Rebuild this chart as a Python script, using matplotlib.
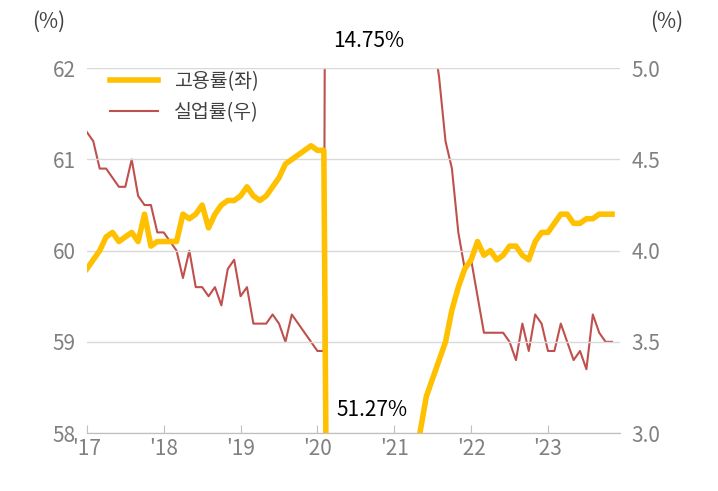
import matplotlib.pyplot as plt
import numpy as np

plt.rcParams["font.family"] = ["Noto Sans CJK KR", "Noto Sans CJK JP", "Noto Sans CJK SC", "DejaVu Sans"]

# monthly data, Jan 2017 - Nov 2023
employment = [
    59.8, 59.9, 60.0, 60.15, 60.2, 60.1, 60.15, 60.2, 60.1, 60.4, 60.05, 60.1,   # 2017
    60.1, 60.1, 60.1, 60.4, 60.35, 60.4, 60.5, 60.25, 60.4, 60.5, 60.55, 60.55,   # 2018
    60.6, 60.7, 60.6, 60.55, 60.6, 60.7, 60.8, 60.95, 61.0, 61.05, 61.1, 61.15,  # 2019
    61.1, 61.1, 51.27, 55.0, 55.5, 56.0, 56.5, 56.8, 57.0, 56.9, 56.8, 56.7,     # 2020
    56.8, 57.0, 57.3, 57.8, 58.0, 58.4, 58.6, 58.8, 59.0, 59.35, 59.6, 59.8,     # 2021
    59.9, 60.1, 59.95, 60.0, 59.9, 59.95, 60.05, 60.05, 59.95, 59.9, 60.1, 60.2, # 2022
    60.2, 60.3, 60.4, 60.4, 60.3, 60.3, 60.35, 60.35, 60.4, 60.4, 60.4,          # 2023
]
unemployment = [
    4.65, 4.6, 4.45, 4.45, 4.4, 4.35, 4.35, 4.5, 4.3, 4.25, 4.25, 4.1,           # 2017
    4.1, 4.05, 4.0, 3.85, 4.0, 3.8, 3.8, 3.75, 3.8, 3.7, 3.9, 3.95,              # 2018
    3.75, 3.8, 3.6, 3.6, 3.6, 3.65, 3.6, 3.5, 3.65, 3.6, 3.55, 3.5,              # 2019
    3.45, 3.45, 14.75, 12.0, 11.0, 10.0, 9.5, 9.0, 8.5, 8.0, 7.5, 7.0,           # 2020
    6.5, 6.2, 6.0, 5.8, 5.6, 5.4, 5.2, 4.95, 4.6, 4.45, 4.1, 3.9,                # 2021
    3.95, 3.75, 3.55, 3.55, 3.55, 3.55, 3.5, 3.4, 3.6, 3.45, 3.65, 3.6,          # 2022
    3.45, 3.45, 3.6, 3.5, 3.4, 3.45, 3.35, 3.65, 3.55, 3.5, 3.5,                 # 2023
]
year_labels = ["'17", "'18", "'19", "'20", "'21", "'22", "'23"]

months = np.arange(len(employment))
gray = "#808080"

fig = plt.figure(figsize=(7.18, 4.91), dpi=100)
ax = fig.add_axes([0.121, 0.118, 0.743, 0.743])
ax2 = ax.twinx()

ax.plot(months, employment, color="#FFC000", lw=4, label="고용률(좌)", zorder=3)
ax2.plot(months, unemployment, color="#C0504D", lw=1.5, label="실업률(우)", zorder=2)

ax.set_ylim(58, 62)
ax2.set_ylim(3.0, 5.0)
ax.set_xlim(0, 83.3)
ax.set_yticks([58, 59, 60, 61, 62])
ax2.set_yticks([3.0, 3.5, 4.0, 4.5, 5.0])
ax2.set_yticklabels(["3.0", "3.5", "4.0", "4.5", "5.0"])
ax.set_xticks(np.arange(0, 84, 12))
ax.set_xticklabels(year_labels)

ax.grid(axis="y", color="#d9d9d9", lw=1)
ax.set_axisbelow(True)
ax.set_zorder(ax2.get_zorder() + 1)
ax.patch.set_visible(False)

for a in (ax, ax2):
    for s in ("top", "right", "left"):
        a.spines[s].set_visible(False)
    a.spines["bottom"].set_color("#bfbfbf")
    a.tick_params(axis="y", length=0, labelsize=15, colors=gray, pad=8)
ax.tick_params(axis="x", labelsize=15, colors=gray, length=6, color="#bfbfbf", direction="in")

fig.text(0.045, 0.955, "(%)", fontsize=15, color="#404040", va="center")
fig.text(0.905, 0.955, "(%)", fontsize=15, color="#404040", va="center")
ax.text(38.5, 62.3, "14.75%", fontsize=15, ha="left", va="center")
ax.text(39, 58.25, "51.27%", fontsize=15, ha="left", va="center")

h1, l1 = ax.get_legend_handles_labels()
h2, l2 = ax2.get_legend_handles_labels()
ax.legend(h1 + h2, l1 + l2, loc="upper left", bbox_to_anchor=(0.01, 1.04),
          frameon=False, fontsize=14, labelcolor="#404040", handlelength=2.5)

fig.savefig("out.png", dpi=100)
